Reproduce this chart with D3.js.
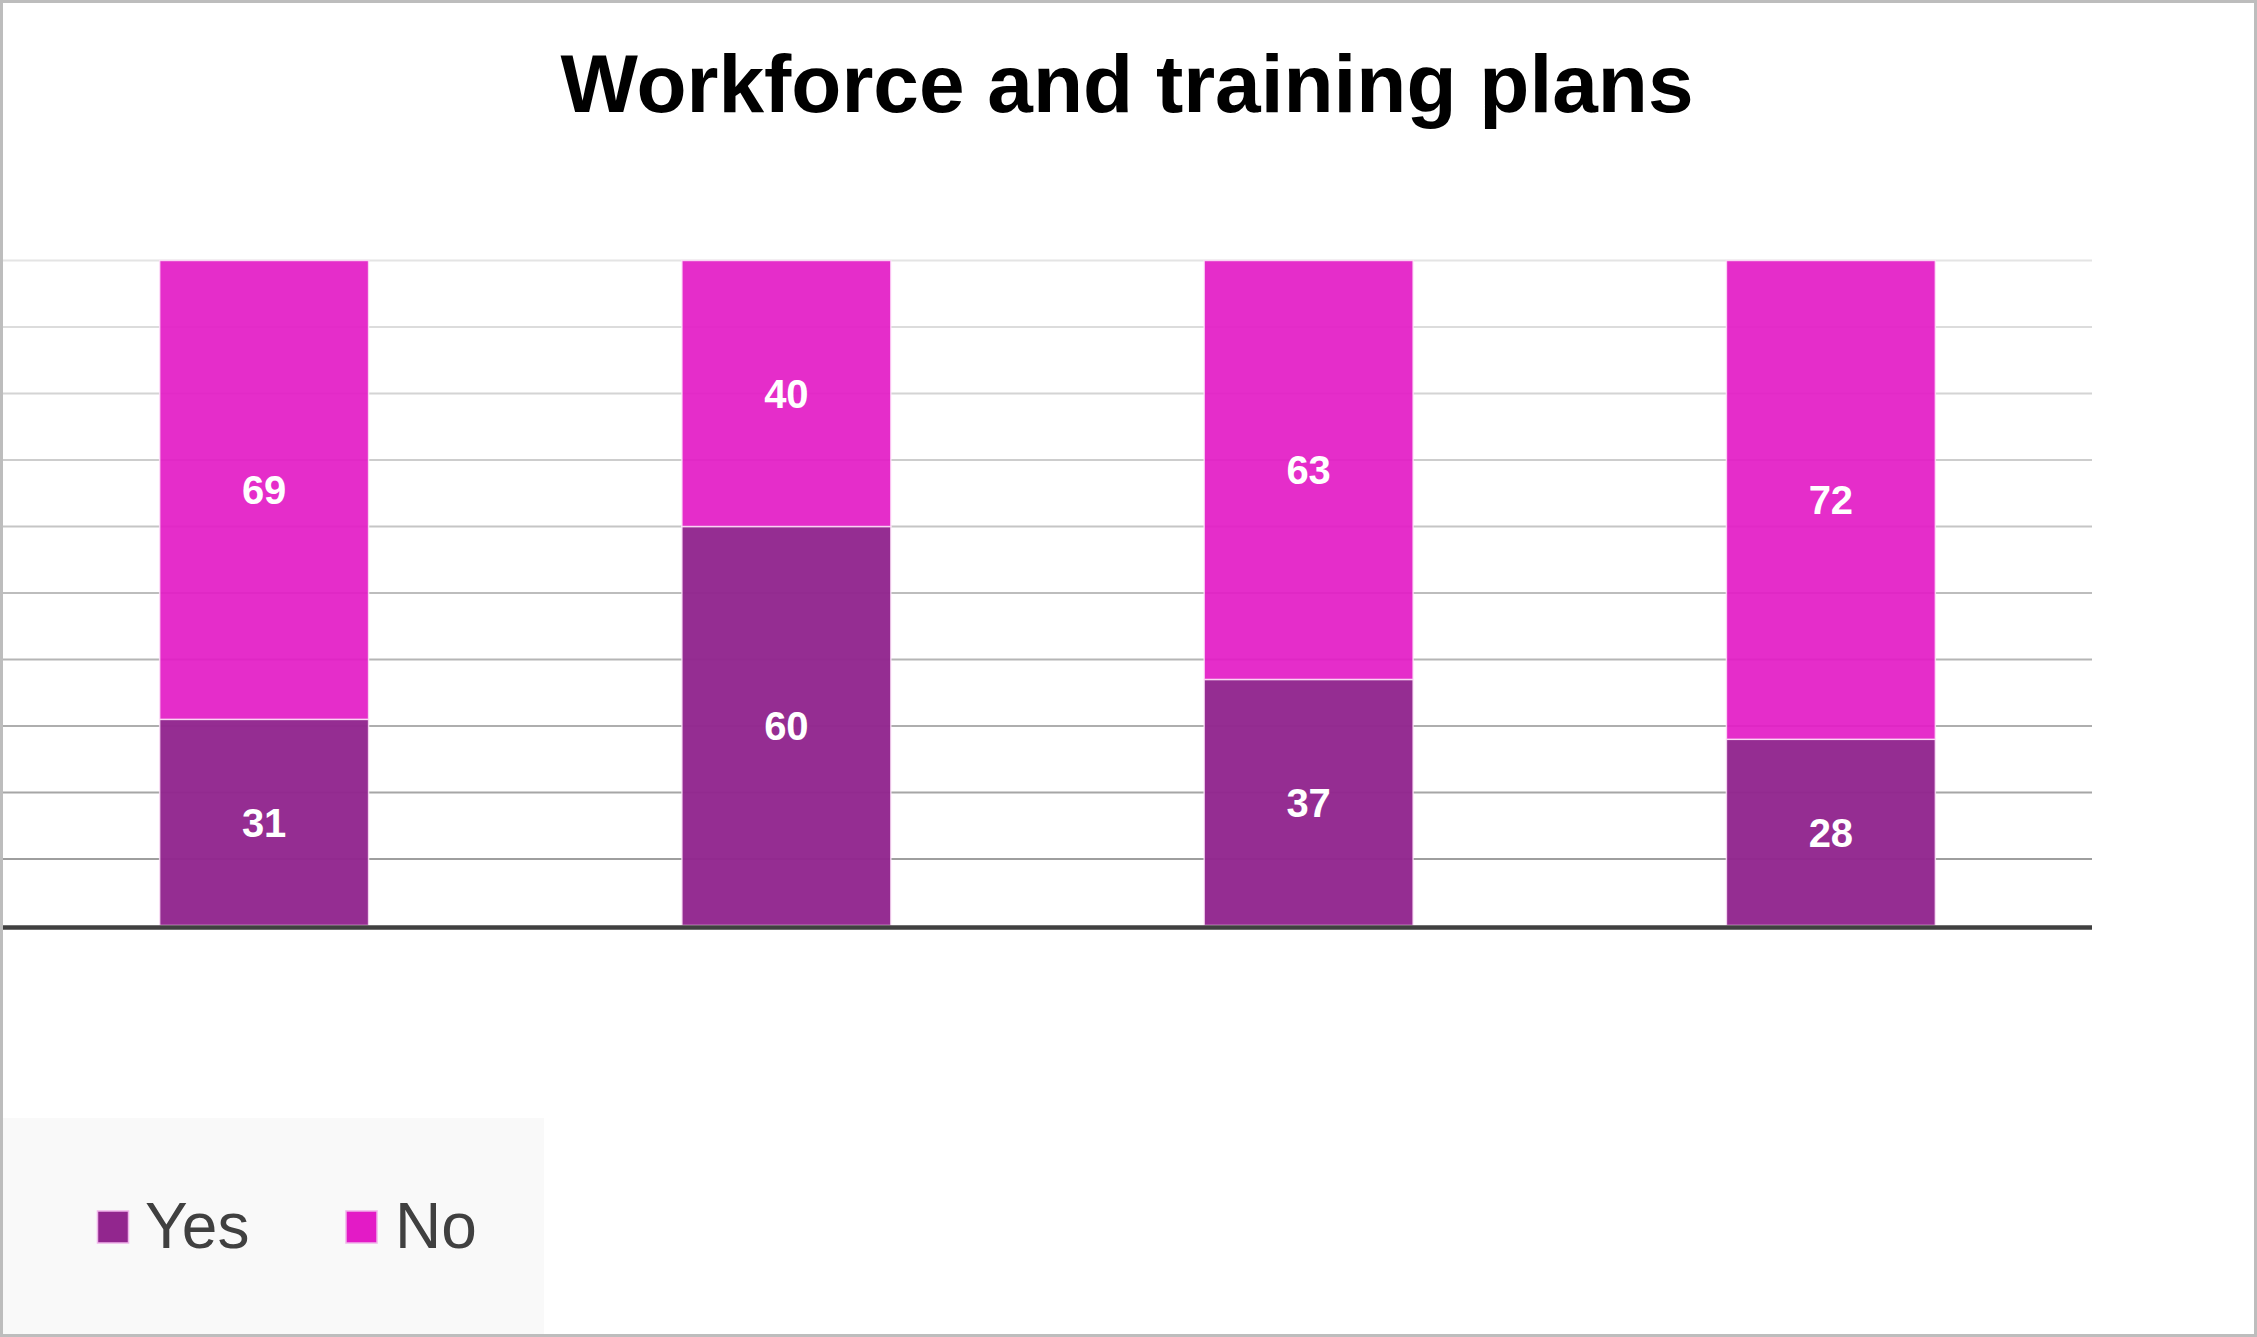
<!DOCTYPE html>
<html>
<head>
<meta charset="utf-8">
<script src="https://cdn.jsdelivr.net/npm/d3@7"></script>
<style>
  html, body { margin: 0; padding: 0; background: #fff; }
  svg { display: block; font-family: "Liberation Sans", Arial, sans-serif; }
</style>
</head>
<body>
<svg id="chart"></svg>
<script>
// Chart data
const categories = ["Group 1", "Group 2", "Group 3", "Group 4"];
const yesValues = [31, 60, 37, 28];
const noValues = [69, 40, 63, 72];
const seriesNames = ["Yes", "No"];
const yTicks = [0, 10, 20, 30, 40, 50, 60, 70, 80, 90, 100];

const colors = { Yes: "#92268e", No: "#e31bc6" };
const opacity = { Yes: 0.97, No: 0.92 };

const width = 2257, height = 1337;
const plot = { left: 3, right: 2092, top: 260.5, bottom: 925.5 };

const svg = d3.select("#chart")
  .attr("width", width)
  .attr("height", height);

svg.append("rect")
  .attr("width", width)
  .attr("height", height)
  .attr("fill", "#fff");

const rows = categories.map((c, i) => ({ cat: c, Yes: yesValues[i], No: noValues[i] }));
const stacked = d3.stack().keys(seriesNames)(rows);

const x = d3.scaleBand()
  .domain(categories)
  .range([3, plot.right])
  .paddingInner(0.6)
  .paddingOuter(0.3);

const y = d3.scaleLinear()
  .domain([0, 100])
  .range([plot.bottom, plot.top]);

// gridlines get darker towards the bottom
const gridColor = d3.scaleLinear()
  .domain([100, 10])
  .range(["#e4e4e4", "#9e9e9e"]);

svg.append("g")
  .selectAll("line")
  .data(yTicks.filter(t => t > 0))
  .join("line")
  .attr("x1", plot.left)
  .attr("x2", plot.right)
  .attr("y1", d => y(d))
  .attr("y2", d => y(d))
  .attr("stroke", d => gridColor(d))
  .attr("stroke-width", 2);

// title
svg.append("text")
  .attr("x", 1127)
  .attr("y", 112)
  .attr("text-anchor", "middle")
  .attr("font-size", 82)
  .attr("font-weight", "bold")
  .attr("fill", "#000")
  .text("Workforce and training plans");

// stacked bars
const layers = svg.append("g")
  .selectAll("g")
  .data(stacked)
  .join("g")
  .attr("fill", d => colors[d.key])
  .attr("fill-opacity", d => opacity[d.key]);

layers.selectAll("rect")
  .data(d => d)
  .join("rect")
  .attr("x", d => x(d.data.cat))
  .attr("width", x.bandwidth())
  .attr("y", d => y(d[1]))
  .attr("height", d => y(d[0]) - y(d[1]))
  .attr("stroke", "rgba(255,230,250,0.8)")
  .attr("stroke-width", 1.5);

// value labels
const labels = svg.append("g");
stacked.forEach(layer => {
  labels.selectAll(null)
    .data(layer)
    .join("text")
    .attr("x", d => x(d.data.cat) + x.bandwidth() / 2)
    .attr("y", d => (y(d[0]) + y(d[1])) / 2)
    .attr("dy", "0.36em")
    .attr("text-anchor", "middle")
    .attr("font-size", 40)
    .attr("font-weight", "bold")
    .attr("fill", "#fff")
    .text(d => d.data[layer.key]);
});

// x axis line
svg.append("line")
  .attr("x1", plot.left)
  .attr("x2", plot.right)
  .attr("y1", y(0) + 2)
  .attr("y2", y(0) + 2)
  .attr("stroke", "#404040")
  .attr("stroke-width", 4.5);

// legend
const legend = svg.append("g");
legend.append("rect")
  .attr("x", 3)
  .attr("y", 1118)
  .attr("width", 541)
  .attr("height", 216)
  .attr("fill", "#f9f9f9");

const legendPos = [{ sx: 97.5, tx: 145 }, { sx: 346, tx: 395 }];
const items = legend.selectAll("g")
  .data(seriesNames)
  .join("g");

items.append("rect")
  .attr("x", (d, i) => legendPos[i].sx)
  .attr("y", 1211)
  .attr("width", 31)
  .attr("height", 32)
  .attr("fill", d => colors[d])
  .attr("stroke", "#efb4ea")
  .attr("stroke-width", 1.5);

items.append("text")
  .attr("x", (d, i) => legendPos[i].tx)
  .attr("y", 1248)
  .attr("font-size", 64)
  .attr("fill", "#404040")
  .text(d => d);

// outer border
svg.append("rect")
  .attr("x", 1.5)
  .attr("y", 1.5)
  .attr("width", width - 3)
  .attr("height", height - 3)
  .attr("fill", "none")
  .attr("stroke", "#bdbdbd")
  .attr("stroke-width", 3);
</script>
</body>
</html>
